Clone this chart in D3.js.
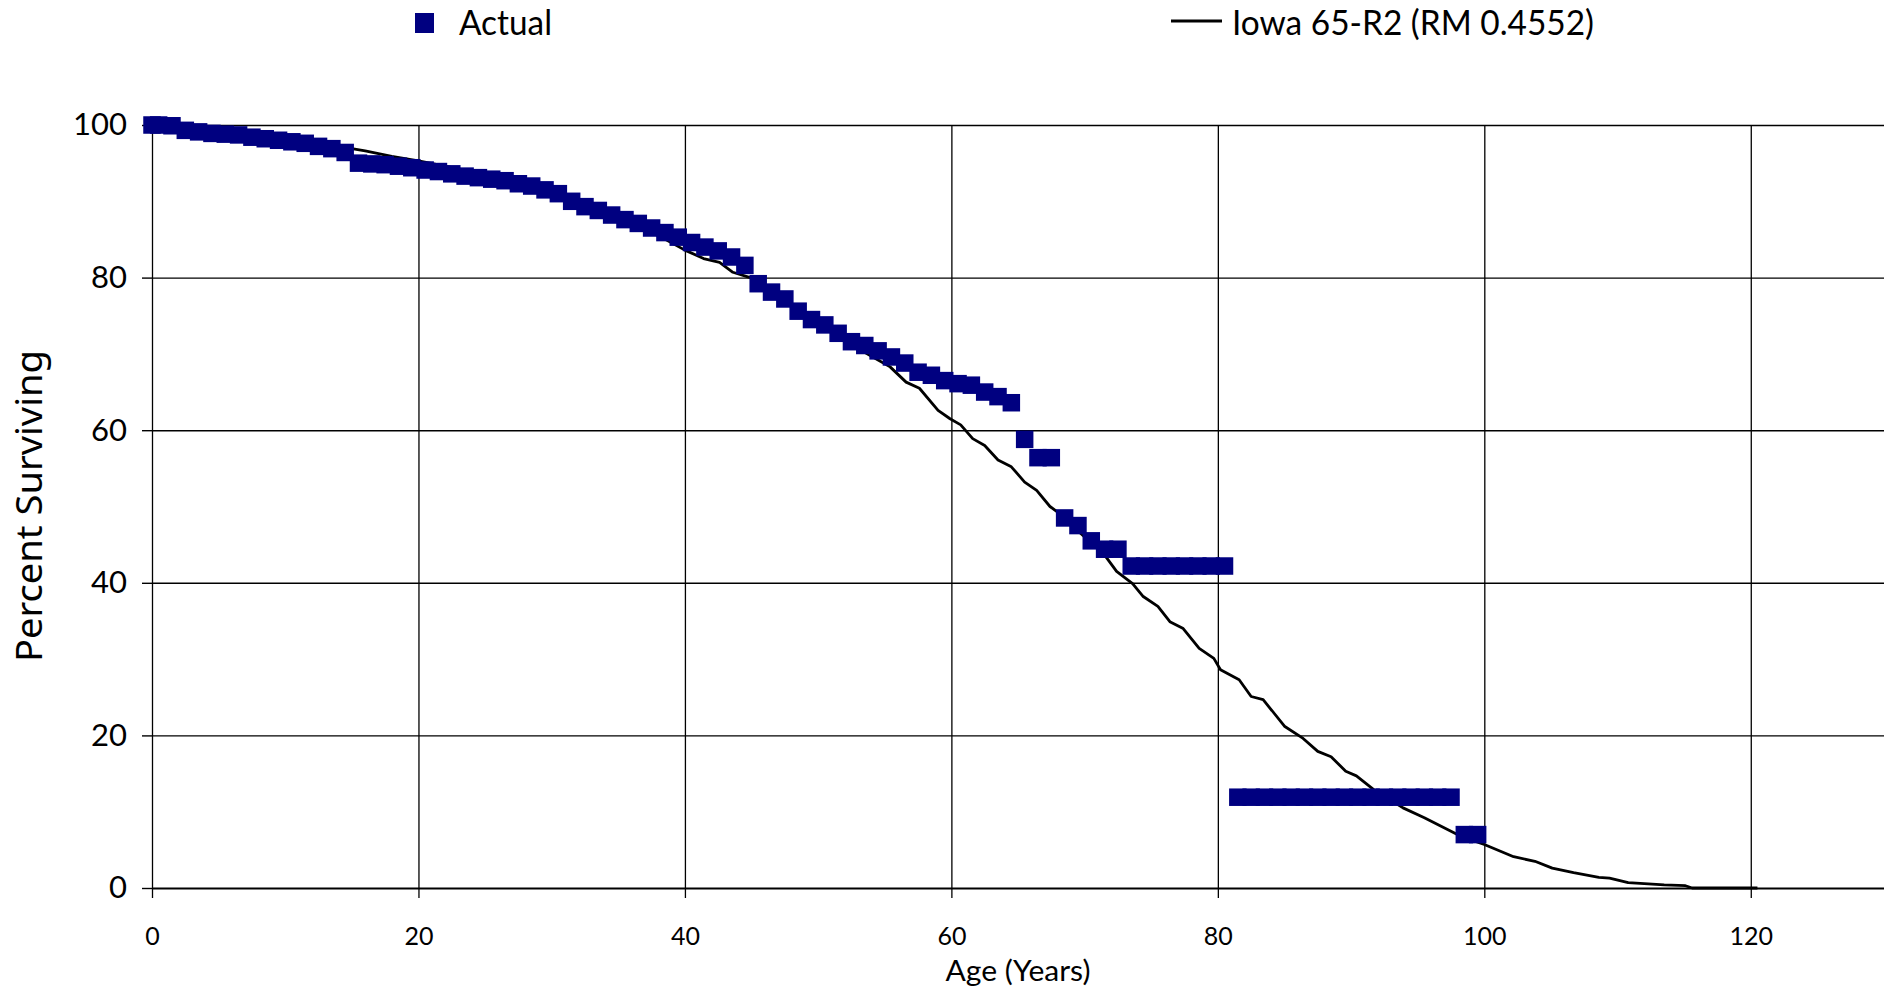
<!DOCTYPE html>
<html><head><meta charset="utf-8">
<script src="https://cdn.jsdelivr.net/npm/d3@7"></script>
<style>body{margin:0;background:#fff;overflow:hidden;} svg{display:block;}</style>
</head><body>
<script>
// ---- data ----
const actualAges = [0, 0.5, 1.5, 2.5, 3.5, 4.5, 5.5, 6.5, 7.5, 8.5, 9.5,
  10.5, 11.5, 12.5, 13.5, 14.5, 15.5, 16.5, 17.5, 18.5, 19.5,
  20.5, 21.5, 22.5, 23.5, 24.5, 25.5, 26.5, 27.5, 28.5, 29.5,
  30.5, 31.5, 32.5, 33.5, 34.5, 35.5, 36.5, 37.5, 38.5, 39.5,
  40.5, 41.5, 42.5, 43.5, 44.5, 45.5, 46.5, 47.5, 48.5, 49.5,
  50.5, 51.5, 52.5, 53.5, 54.5, 55.5, 56.5, 57.5, 58.5, 59.5,
  60.5, 61.5, 62.5, 63.5, 64.5, 65.5, 66.5, 67.5, 68.5, 69.5,
  70.5, 71.5, 72.5, 73.5, 74.5, 75.5, 76.5, 77.5, 78.5, 79.5,
  80.5, 81.5, 82.5, 83.5, 84.5, 85.5, 86.5, 87.5, 88.5, 89.5,
  90.5, 91.5, 92.5, 93.5, 94.5, 95.5, 96.5, 97.5, 98.5, 99.5];
const actualValues = [100.0, 100.0, 99.9, 99.3, 99.1, 98.9, 98.8, 98.7, 98.4, 98.2, 98.0,
  97.8, 97.6, 97.2, 96.9, 96.4, 95.0, 94.9, 94.8, 94.6, 94.4,
  94.1, 93.9, 93.6, 93.3, 93.1, 92.9, 92.7, 92.3, 92.0, 91.5,
  91.0, 90.0, 89.3, 88.8, 88.2, 87.6, 87.1, 86.5, 85.9, 85.3,
  84.6, 84.0, 83.5, 82.7, 81.6, 79.2, 78.1, 77.2, 75.6, 74.5,
  73.8, 72.7, 71.6, 71.1, 70.4, 69.6, 68.8, 67.6, 67.2, 66.5,
  66.1, 65.9, 65.0, 64.4, 63.6, 58.8, 56.4, 56.4, 48.5, 47.5,
  45.5, 44.4, 44.4, 42.2, 42.2, 42.2, 42.2, 42.2, 42.2, 42.2,
  42.2, 11.9, 11.9, 11.9, 11.9, 11.9, 11.9, 11.9, 11.9, 11.9,
  11.9, 11.9, 11.9, 11.9, 11.9, 11.9, 11.9, 11.9, 7.0, 7.0];

const iowaAges = [0, 2, 4, 6, 8, 10, 12, 14, 16, 18, 20, 22, 24, 26, 28, 30, 32, 34, 36, 38,
  40.0, 41.4, 42.6, 43.6, 44.9, 46, 47, 48, 49, 50, 51, 52, 53, 54.1, 55.4, 56.6, 57.6,
  59.0, 59.9, 60.7, 61.6, 62.5, 63.5, 64.5, 65.5, 66.4, 67.4, 68.1, 69, 70, 71, 71.6,
  72.4, 73.6, 74.4, 75.5, 76.4, 77.4, 78.6, 79.7, 80.2, 81.6, 82.5, 83.4, 85.0, 86.4,
  87.5, 88.5, 89.6, 90.4, 91.7, 93.9, 95.5, 98.2, 100.0, 102.2, 103.8, 105.1, 106.7,
  108.6, 109.4, 110.8, 113.5, 115.1, 115.6, 120.5];
const iowaValues = [100, 99.7, 99.3, 98.9, 98.5, 98.1, 97.6, 97.2, 96.6, 95.9, 95.3, 94.6, 93.9, 93.1, 92.2, 91.2, 90.0, 88.6, 87.1, 85.5,
  83.6, 82.5, 82.0, 80.7, 80.0, 78.7, 77.4, 76.3, 75.0, 74.0, 72.9, 71.9, 70.7, 69.6, 68.3, 66.3, 65.5,
  62.6, 61.5, 60.7, 58.9, 58.0, 56.1, 55.2, 53.2, 52.1, 50.0, 49.1, 47.6, 46.0, 44.5, 43.4,
  41.5, 39.9, 38.2, 36.9, 34.9, 34.0, 31.4, 30.1, 28.6, 27.3, 25.1, 24.7, 21.2, 19.6,
  17.9, 17.2, 15.3, 14.7, 12.9, 10.5, 9.2, 6.8, 5.7, 4.1, 3.5, 2.6, 2.0,
  1.4, 1.3, 0.7, 0.4, 0.3, 0.0, 0.0];

const xTicks = [0, 20, 40, 60, 80, 100, 120];
const yTicks = [0, 20, 40, 60, 80, 100];
const seriesNames = ["Actual", "Iowa 65-R2 (RM 0.4552)"];
const xTitle = "Age (Years)";
const yTitle = "Percent Surviving";

// ---- chart ----
const W = 1894, H = 997;
const L = 152, R = 1884, T = 125, B = 888;
const navy = "#000080";
const tickFont = "Lato, 'Open Sans', sans-serif";

const svg = d3.select("body").append("svg").attr("width", W).attr("height", H);
const x = d3.scaleLinear().domain([0, 130]).range([L, R]);
const y = d3.scaleLinear().domain([0, 100]).range([B, T]);

// horizontal gridlines
svg.append("g").attr("transform", `translate(${L},0)`)
  .call(d3.axisLeft(y).tickValues(yTicks).tickSize(-(R - L)).tickFormat(""))
  .call(g => g.select(".domain").remove())
  .call(g => g.selectAll("line").attr("stroke", "#000").attr("stroke-width", d => d === 0 ? 2 : 1.4));

// vertical gridlines
svg.append("g").attr("transform", `translate(0,${B})`)
  .call(d3.axisBottom(x).tickValues(xTicks).tickSize(-(B - T)).tickFormat(""))
  .call(g => g.select(".domain").remove())
  .call(g => g.selectAll("line").attr("stroke", "#000").attr("stroke-width", 1.3));

// y axis with labels
svg.append("g").attr("transform", `translate(${L},0)`)
  .call(d3.axisLeft(y).tickValues(yTicks).tickSize(10).tickPadding(15).tickFormat(d3.format("d")))
  .call(g => g.select(".domain").remove())
  .call(g => g.selectAll("line").attr("stroke", "#000").attr("stroke-width", 1.4))
  .call(g => g.selectAll("text").attr("font-family", tickFont).attr("font-size", 31).attr("fill", "#000"));

// x axis with labels
svg.append("g").attr("transform", `translate(0,${B})`)
  .call(d3.axisBottom(x).tickValues(xTicks).tickSize(10).tickPadding(29).tickFormat(d3.format("d")))
  .call(g => g.select(".domain").remove())
  .call(g => g.selectAll("line").attr("stroke", "#000").attr("stroke-width", 1.3))
  .call(g => g.selectAll("text").attr("font-family", tickFont).attr("font-size", 25).attr("fill", "#000"));

// Iowa curve
const iowa = iowaAges.map((a, i) => [a, iowaValues[i]]);
svg.append("path").datum(iowa)
  .attr("fill", "none").attr("stroke", "#000").attr("stroke-width", 2.8)
  .attr("stroke-linejoin", "round")
  .attr("d", d3.line().x(d => x(d[0])).y(d => y(d[1])));

// Actual markers
const ms = 17.5;
const actual = actualAges.map((a, i) => [a, actualValues[i]]);
svg.append("g").selectAll("rect").data(actual).join("rect")
  .attr("x", d => x(d[0]) - ms / 2).attr("y", d => y(d[1]) - ms / 2)
  .attr("width", ms).attr("height", ms).attr("fill", navy);

// titles
svg.append("text").attr("transform", `translate(42,506) rotate(-90)`)
  .attr("text-anchor", "middle").attr("font-family", "'Noto Sans', 'Open Sans', sans-serif")
  .attr("font-size", 36).attr("fill", "#000")
  .attr("textLength", 312).attr("lengthAdjust", "spacingAndGlyphs")
  .text(yTitle);
svg.append("text").attr("x", (L + R) / 2).attr("y", 981)
  .attr("text-anchor", "middle").attr("font-family", tickFont)
  .attr("font-size", 29).attr("fill", "#000")
  .attr("textLength", 145).attr("lengthAdjust", "spacingAndGlyphs")
  .text(xTitle);

// legend
const lg = svg.append("g");
lg.append("rect").attr("x", 415).attr("y", 13).attr("width", 19).attr("height", 20).attr("fill", navy);
lg.append("text").attr("x", 459).attr("y", 35).attr("font-family", tickFont).attr("font-size", 35)
  .attr("fill", "#000").attr("textLength", 93).attr("lengthAdjust", "spacingAndGlyphs").text(seriesNames[0]);
lg.append("line").attr("x1", 1171).attr("x2", 1222).attr("y1", 21).attr("y2", 21)
  .attr("stroke", "#000").attr("stroke-width", 3);
lg.append("text").attr("x", 1232).attr("y", 35).attr("font-family", tickFont).attr("font-size", 35)
  .attr("fill", "#000").attr("textLength", 362).attr("lengthAdjust", "spacingAndGlyphs").text(seriesNames[1]);
</script>
</body></html>
